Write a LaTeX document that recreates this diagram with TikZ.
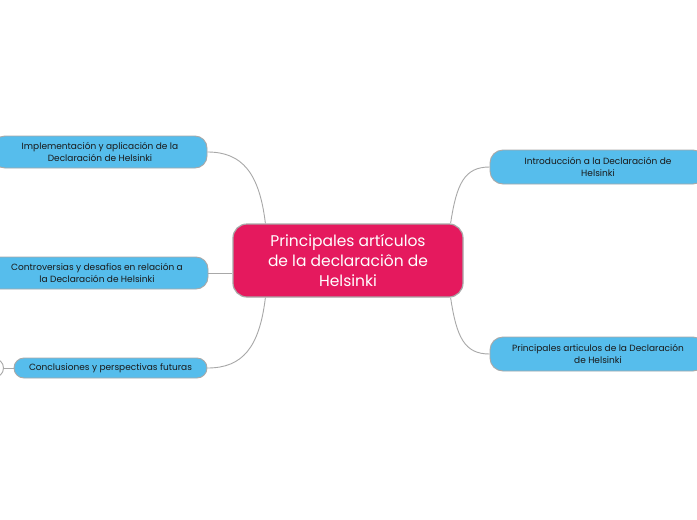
\documentclass[tikz,border=0pt]{standalone}
\usepackage{fontspec}
\setmainfont{Poppins}
\usetikzlibrary{calc}
\definecolor{leafblue}{HTML}{56BDEC}
\definecolor{rootred}{HTML}{E5195E}
\definecolor{edgegray}{HTML}{A8A8A8}
\tikzset{
  leaf/.style={draw=edgegray, line width=0.9pt, fill=leafblue, rounded corners=12pt,
    align=center, font=\fontsize{9}{12}\selectfont, text=black!90, inner sep=0pt},
  root/.style={draw=edgegray, line width=1.2pt, fill=rootred, rounded corners=14pt,
    align=center, font=\fontsize{15.5}{20}\selectfont, text=white, inner sep=0pt,
    minimum width=230pt, minimum height=73pt},
  conn/.style={draw=edgegray, line width=0.9pt}
}
\begin{document}
\begin{tikzpicture}[x=1pt,y=-1pt]
\useasboundingbox (0,0) rectangle (697,520);
\clip (0,0) rectangle (697,520);
\fill[white] (0,0) rectangle (697,520);

\node[root] (root) at (348,260.5) {Principales artículos\\de la declaraciôn de\\Helsinki};

\node[leaf, minimum width=214pt, minimum height=32pt] (impl) at (100,152) {Implementación y aplicación de la\\Declaración de Helsinki};
\node[leaf, minimum width=222pt, minimum height=32pt] (contr) at (97,273) {Controversias y desafios en relación a\\la Declaración de Helsinki};
\node[leaf, minimum width=193pt, minimum height=20pt, rounded corners=10pt] (concl) at (110.5,368) {Conclusiones y perspectivas futuras};
\node[draw=edgegray, line width=0.9pt, fill=white, circle, minimum size=19pt, inner sep=0pt] (sub) at (-6,368) {};

\node[leaf, minimum width=216pt, minimum height=34pt, rounded corners=13pt] (intro) at (598,167) {Introducción a la Declaración de\\Helsinki};
\node[leaf, minimum width=216pt, minimum height=34pt, rounded corners=13pt] (princ) at (598,354) {Principales articulos de la Declaración\\de Helsinki};

\coordinate (rtl) at ($(root.north west)+(33,0)$);
\coordinate (rbl) at ($(root.south west)+(33,0)$);
\coordinate (rtr) at ($(root.north east)+(-13,0)$);
\coordinate (rbr) at ($(root.south east)+(-13,0)$);

\draw[conn] (rtl) .. controls ($(rtl)+(-6,-50)$) and ($(impl.east)+(35,0)$) .. (impl.east);
\draw[conn] (rbl) .. controls ($(rbl)+(-6,50)$) and ($(concl.east)+(35,0)$) .. (concl.east);
\draw[conn] (contr.east) -- (root.west |- contr.east);
\draw[conn] (rtr) .. controls ($(rtr)+(6,-40)$) and ($(intro.west)+(-25,0)$) .. (intro.west);
\draw[conn] (rbr) .. controls ($(rbr)+(6,40)$) and ($(princ.west)+(-25,0)$) .. (princ.west);
\draw[conn] (sub.east) -- (concl.west);
\end{tikzpicture}
\end{document}
